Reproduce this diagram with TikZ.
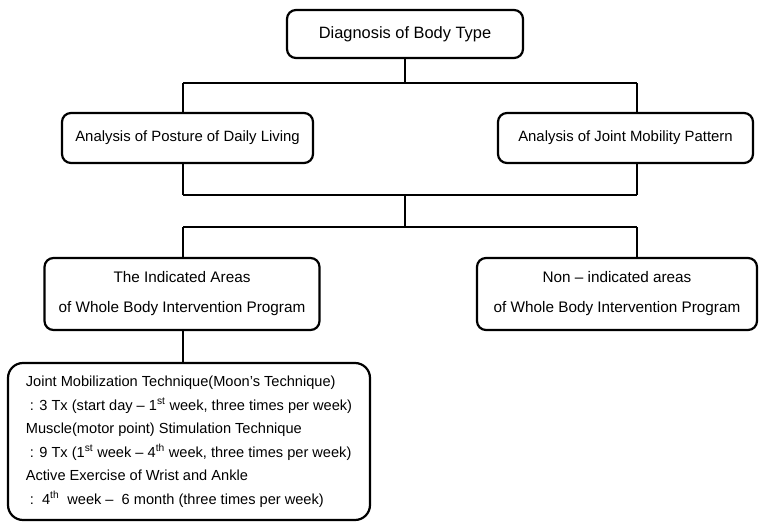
\documentclass[tikz,border=0pt]{standalone}
\usepackage{fontspec}
\setmainfont{Liberation Sans}
\usetikzlibrary{backgrounds}
\begin{document}
\begin{tikzpicture}[x=1pt,y=-1pt,
  box/.style={draw, line width=2.2pt, rounded corners=9pt, fill=white, inner sep=0pt, align=center},
  conn/.style={line width=1.6pt}]
\useasboundingbox (0,0) rectangle (761,530);
% nodes
\node[box, minimum width=236pt, minimum height=48pt, font=\fontsize{16.4}{20}\selectfont] (top) at (405,34) {Diagnosis of Body Type};
\node[box, minimum width=251pt, minimum height=50pt, font=\fontsize{14.9}{18}\selectfont] (L2) at (187.5,138) {Analysis of Posture of Daily Living};
\node[box, minimum width=255pt, minimum height=50pt, font=\fontsize{14.9}{18}\selectfont] (R2) at (625.5,138) {Analysis of Joint Mobility Pattern};
\node[box, minimum width=275pt, minimum height=72pt, font=\fontsize{15.3}{30}\selectfont] (L3) at (182,294) {The Indicated Areas\\of Whole Body Intervention Program};
\node[box, minimum width=280pt, minimum height=72pt, font=\fontsize{15.3}{30}\selectfont] (R3) at (617,294) {Non -- indicated areas\\of Whole Body Intervention Program};
\node[box, rounded corners=15pt, inner xsep=8pt, minimum width=362pt, minimum height=157pt, align=left, font=\fontsize{14.6}{23.5}\selectfont] (B) at (189,441.5) {Joint Mobilization Technique(Moon’s Technique)\\
\ : 3 Tx (start day -- 1\textsuperscript{st} week, three times per week)\\
Muscle(motor point) Stimulation Technique\\
\ : 9 Tx (1\textsuperscript{st} week -- 4\textsuperscript{th} week, three times per week)\\
Active Exercise of Wrist and Ankle\\
\ :\ \ 4\textsuperscript{th}\ \ week --\ \ 6 month (three times per week)};
% junction coordinates
\coordinate (j1) at (405,83);
\coordinate (h1L) at (183,83);
\coordinate (h1R) at (637,83);
\coordinate (h2L) at (183,195);
\coordinate (h2R) at (637,195);
\coordinate (j2) at (405,195);
\coordinate (j3) at (405,227);
\coordinate (h3L) at (183,227);
\coordinate (h3R) at (637,227);
\begin{scope}[on background layer]
\draw[conn] (top.south) -- (j1);
\draw[conn] (h1L) -- (h1R);
\draw[conn] (h1L) -- (h2L);
\draw[conn] (h1R) -- (h2R);
\draw[conn] (h2L) -- (h2R);
\draw[conn] (j2) -- (j3);
\draw[conn] (h3L) -- (h3R);
\draw[conn] (h3L) -- (h3L |- L3.north);
\draw[conn] (h3R) -- (h3R |- R3.north);
\draw[conn] (h3L |- L3.south) -- (h3L |- B.north);
\end{scope}
\end{tikzpicture}
\end{document}
